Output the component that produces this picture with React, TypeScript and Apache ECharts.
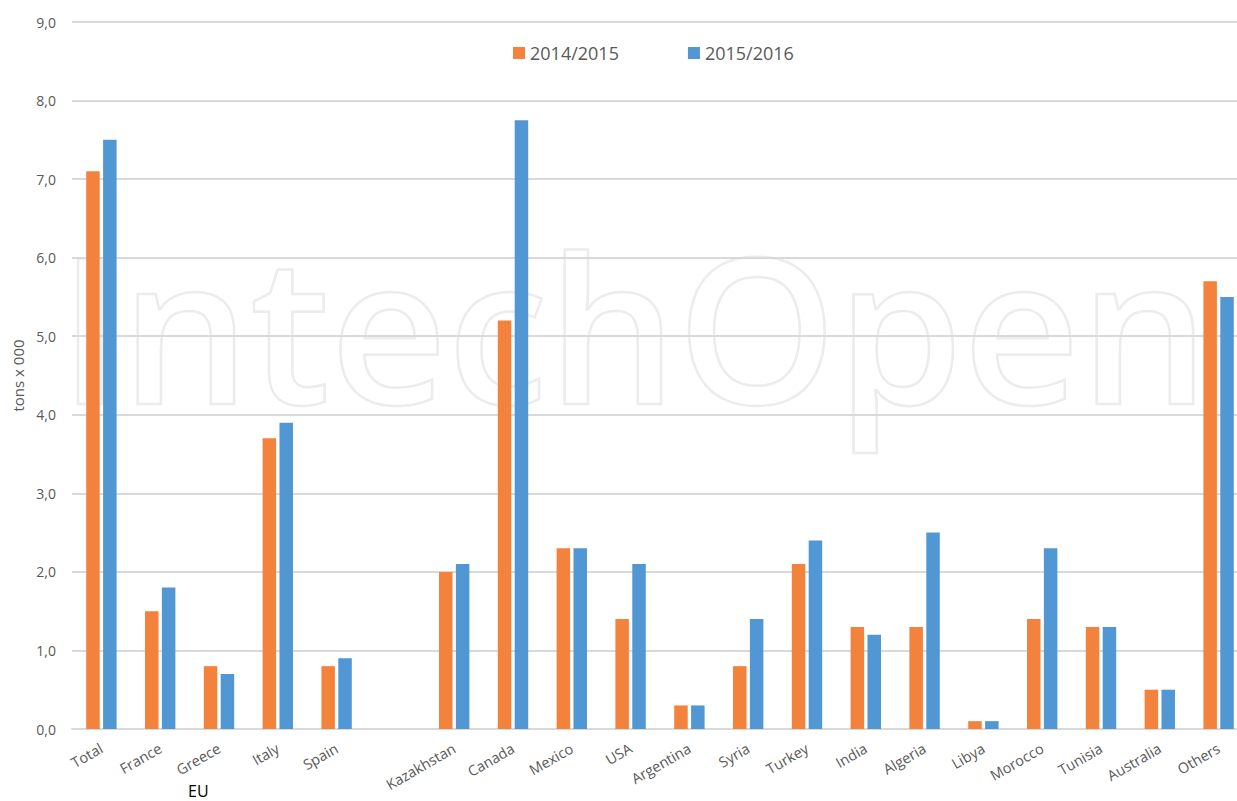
import React, { useEffect, useRef } from "react";
import * as echarts from "echarts";

const categories = [
  "Total", "France", "Greece", "Italy", "Spain", "",
  "Kazakhstan", "Canada", "Mexico", "USA", "Argentina", "Syria",
  "Turkey", "India", "Algeria", "Libya", "Morocco", "Tunisia", "Australia", "Others",
];
const series2014 = [7.1, 1.5, 0.8, 3.7, 0.8, null, 2.0, 5.2, 2.3, 1.4, 0.3, 0.8, 2.1, 1.3, 1.3, 0.1, 1.4, 1.3, 0.5, 5.7];
const series2015 = [7.5, 1.8, 0.7, 3.9, 0.9, null, 2.1, 7.75, 2.3, 2.1, 0.3, 1.4, 2.4, 1.2, 2.5, 0.1, 2.3, 1.3, 0.5, 5.5];
const seriesNames = ["2014/2015", "2015/2016"];
const yMin = 0;
const yMax = 9;
const yInterval = 1;

const FONT = '"Open Sans", "Liberation Sans", sans-serif';
const GREY = "#595959";

export default function App() {
  const ref = useRef<HTMLDivElement>(null);
  useEffect(() => {
    if (!ref.current) return;
    const chart = echarts.init(ref.current, undefined, { renderer: "svg" });
    chart.setOption({
      animation: false,
      backgroundColor: "#ffffff",
      textStyle: { fontFamily: FONT },
      grid: { left: 72, right: 2, top: 22, bottom: 72, containLabel: false },
      legend: {
        left: 513,
        top: 44,
        padding: 0,
        itemWidth: 12,
        itemHeight: 12,
        itemGap: 69,
        icon: "rect",
        textStyle: { fontSize: 18, color: GREY, fontFamily: FONT, padding: [0, 0, 0, 0] },
        data: seriesNames,
      },
      xAxis: {
        type: "category",
        data: categories,
        axisLine: { lineStyle: { color: "#d9d9d9", width: 2 } },
        axisTick: { show: false },
        axisLabel: {
          rotate: 30,
          interval: 0,
          margin: 18,
          fontSize: 14.5,
          color: GREY,
          fontFamily: FONT,
        },
      },
      yAxis: {
        type: "value",
        min: yMin,
        max: yMax,
        interval: yInterval,
        name: "tons x 000",
        nameLocation: "middle",
        nameRotate: 90,
        nameGap: 46,
        nameTextStyle: { fontSize: 15, color: GREY, fontFamily: FONT },
        axisLine: { show: false },
        axisTick: { show: false },
        splitLine: { lineStyle: { color: "#d9d9d9", width: 2 } },
        axisLabel: {
          margin: 16,
          fontSize: 14,
          color: GREY,
          fontFamily: FONT,
          formatter: (v: number) => v.toFixed(1).replace(".", ","),
        },
      },
      series: [
        {
          name: seriesNames[0],
          type: "bar",
          data: series2014,
          barWidth: 13.5,
          barGap: "25%",
          itemStyle: { color: "#F3823C" },
          z: 2,
        },
        {
          name: seriesNames[1],
          type: "bar",
          data: series2015,
          barWidth: 13.5,
          barGap: "25%",
          itemStyle: { color: "#5197D3" },
          z: 2,
        },
      ],
      graphic: [
        {
          type: "text",
          x: 59,
          y: 325,
          silent: true,
          z: -1,
          style: {
            text: "IntechOpen",
            font: `600 203px "Open Sans"`,
            fill: "transparent",
            stroke: "#ececec",
            lineWidth: 2.5,
            textAlign: "left",
            textVerticalAlign: "middle",
          },
        },
        {
          type: "text",
          x: 188,
          y: 783,
          style: {
            text: "EU",
            font: `16px ${FONT}`,
            fill: "#000000",
          },
        },
      ],
    });
    return () => chart.dispose();
  }, []);
  return (
    <div
      ref={ref}
      style={{ position: "fixed", left: 0, top: 0, width: 1250, height: 801, background: "#fff" }}
    />
  );
}
